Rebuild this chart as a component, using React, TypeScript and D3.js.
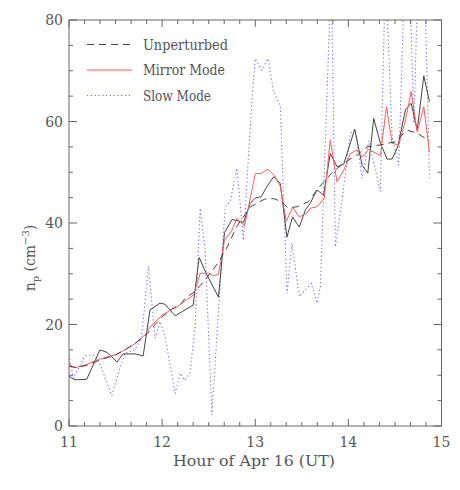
import React from "react";
import * as d3 from "d3";

// ---- data ----
const obsHours = [11.0, 11.065, 11.19, 11.333, 11.41, 11.516, 11.58, 11.71, 11.796, 11.87, 11.978, 12.03, 12.14, 12.247, 12.333, 12.398, 12.48, 12.605, 12.67, 12.75, 12.84, 12.874, 12.946, 13.0, 13.065, 13.126, 13.197, 13.269, 13.34, 13.40, 13.473, 13.538, 13.59, 13.663, 13.734, 13.806, 13.878, 13.95, 14.068, 14.147, 14.208, 14.272, 14.344, 14.416, 14.47, 14.53, 14.613, 14.674, 14.739, 14.81, 14.871];
const obsValues = [9.8, 9.1, 9.2, 15.0, 14.5, 12.6, 14.2, 14.2, 13.8, 22.9, 24.2, 24.0, 21.7, 22.9, 23.8, 33.2, 29.8, 25.4, 38.1, 40.7, 40.3, 40.1, 43.9, 44.9, 45.2, 47.2, 49.1, 47.8, 37.2, 41.2, 39.2, 42.6, 43.9, 46.5, 45.5, 53.7, 51.1, 51.6, 58.5, 51.4, 49.8, 60.6, 55.7, 52.6, 52.6, 55.0, 62.3, 63.6, 58.3, 69.0, 63.9];

const unpHours = [11.0, 11.07, 11.2, 11.33, 11.5, 11.6, 11.7, 11.82, 11.9, 12.0, 12.1, 12.2, 12.25, 12.35, 12.45, 12.6, 12.7, 12.8, 12.95, 13.1, 13.2, 13.28, 13.35, 13.45, 13.57, 13.65, 13.72, 13.82, 13.95, 14.1, 14.2, 14.35, 14.5, 14.63, 14.74, 14.8, 14.87];
const unpValues = [11.8, 11.5, 12.0, 13.0, 14.0, 15.0, 16.2, 17.8, 19.5, 21.5, 23.0, 24.0, 25.2, 26.5, 28.5, 32.1, 35.3, 39.3, 43.2, 44.7, 44.8, 44.2, 43.0, 43.2, 44.2, 46.2, 47.8, 49.8, 51.8, 53.5, 55.0, 55.4, 56.0, 58.3, 57.7, 57.0, 56.0];

const mirHours = [11.0, 11.065, 11.17, 11.315, 11.387, 11.495, 11.6, 11.71, 11.817, 11.87, 11.997, 12.104, 12.158, 12.247, 12.337, 12.409, 12.498, 12.552, 12.605, 12.67, 12.75, 12.803, 12.857, 12.885, 13.0, 13.065, 13.137, 13.208, 13.269, 13.333, 13.40, 13.473, 13.556, 13.59, 13.663, 13.742, 13.806, 13.878, 13.95, 14.022, 14.094, 14.147, 14.218, 14.344, 14.409, 14.47, 14.541, 14.613, 14.674, 14.739, 14.81, 14.871];
const mirValues = [12.2, 11.5, 12.0, 13.1, 13.5, 14.0, 15.0, 16.2, 18.0, 19.5, 21.8, 23.0, 23.4, 24.7, 25.8, 30.1, 30.1, 29.6, 29.9, 36.6, 38.6, 40.9, 39.9, 39.4, 49.7, 49.8, 50.6, 49.3, 47.2, 40.3, 43.1, 41.2, 42.0, 42.9, 43.2, 44.9, 56.4, 48.1, 50.4, 53.7, 54.4, 53.0, 54.5, 53.3, 62.9, 55.7, 55.4, 60.3, 65.9, 58.0, 62.9, 53.9];

const slowHours = [11.0, 11.046, 11.17, 11.26, 11.315, 11.46, 11.53, 11.6, 11.71, 11.78, 11.853, 11.925, 11.978, 12.032, 12.14, 12.194, 12.247, 12.30, 12.355, 12.409, 12.462, 12.534, 12.588, 12.677, 12.731, 12.803, 12.874, 12.928, 12.964, 13.0, 13.072, 13.137, 13.197, 13.269, 13.341, 13.395, 13.473, 13.538, 13.602, 13.663, 13.699, 13.817, 13.860, 13.932, 14.022, 14.075, 14.147, 14.218, 14.344, 14.398, 14.470, 14.541, 14.602, 14.656, 14.703, 14.753, 14.817, 14.871];
const slowValues = [14.0, 9.4, 13.8, 14.0, 13.0, 6.0, 10.4, 14.3, 15.0, 17.6, 31.5, 17.3, 20.6, 17.6, 6.4, 10.4, 9.0, 10.5, 20.0, 42.9, 34.7, 2.2, 17.6, 43.2, 44.2, 50.8, 36.6, 53.4, 63.9, 72.4, 70.1, 72.4, 65.9, 63.2, 26.1, 36.0, 25.5, 26.8, 28.1, 24.2, 27.4, 90.0, 35.3, 44.5, 57.7, 58.3, 48.8, 56.2, 46.2, 90.0, 57.0, 51.4, 88.0, 90.0, 59.6, 92.0, 90.0, 48.8];

const xTicks = [11, 12, 13, 14, 15];
const yTicks = [0, 20, 40, 60, 80];
const legendLabels = ["Unperturbed", "Mirror Mode", "Slow Mode"];

const W = 460, H = 490;
const left = 69, right = 441.5, top = 20, bottom = 426;
const FONT = "'DejaVu Serif', serif";
const AX = "#666";
const TXT = "#555";
const RED = "#ff5c5c";
const BLUE = "#6c6cff";
const DARK = "#444";

export default function App() {
  const x = d3.scaleLinear().domain([11, 15]).range([left, right]);
  const y = d3.scaleLinear().domain([0, 80]).range([bottom, top]);
  const mk = (hs: number[], vs: number[]) =>
    d3.line<number>().x((_, i) => x(hs[i])).y((v) => y(v)).curve(d3.curveLinear)(vs) || "";

  const xMinor = d3.range(11, 15.0001, 1 / 6);
  const yMinor = d3.range(0, 80.0001, 5);

  const legendStyles = [
    { stroke: DARK, dash: "7,5", w: 1 },
    { stroke: RED, dash: undefined, w: 1 },
    { stroke: BLUE, dash: "1.2,2.6", w: 1.1 },
  ];

  return (
    <svg width={W} height={H} style={{ position: "absolute", left: 0, top: 0, background: "#fff" }}>
      <defs>
        <clipPath id="plotClip">
          <rect x={left} y={top} width={right - left} height={bottom - top} />
        </clipPath>
      </defs>
      <g clipPath="url(#plotClip)" fill="none">
        <path d={mk(slowHours, slowValues)} stroke={BLUE} strokeWidth={1.1} strokeDasharray="1.2,2.6" />
        <path d={mk(obsHours, obsValues)} stroke={DARK} strokeWidth={1} />
        <path d={mk(mirHours, mirValues)} stroke={RED} strokeWidth={1} />
        <path d={mk(unpHours, unpValues)} stroke={DARK} strokeWidth={1} strokeDasharray="7,5" />
      </g>
      <rect x={left} y={top} width={right - left} height={bottom - top} fill="none" stroke={AX} strokeWidth={1} />
      {xMinor.map((t, i) => {
        const major = i % 6 === 0;
        const len = major ? 7 : 4;
        return (
          <g key={"xt" + i} stroke={AX} strokeWidth={1}>
            <line x1={x(t)} x2={x(t)} y1={bottom} y2={bottom - len} />
            <line x1={x(t)} x2={x(t)} y1={top} y2={top + len} />
          </g>
        );
      })}
      {yMinor.map((t, i) => {
        const major = i % 4 === 0;
        const len = major ? 8 : 4;
        return (
          <g key={"yt" + i} stroke={AX} strokeWidth={1}>
            <line x1={left} x2={left + len} y1={y(t)} y2={y(t)} />
            <line x1={right} x2={right - len} y1={y(t)} y2={y(t)} />
          </g>
        );
      })}
      {xTicks.map((t) => (
        <text key={"xl" + t} x={x(t)} y={447} textAnchor="middle" fontFamily={FONT} fontSize={14} fill={TXT}>
          {t}
        </text>
      ))}
      {yTicks.map((t) => (
        <text key={"yl" + t} x={63} y={y(t) + 5} textAnchor="end" fontFamily={FONT} fontSize={14} fill={TXT}>
          {t}
        </text>
      ))}
      <text x={254} y={466} textAnchor="middle" fontFamily={FONT} fontSize={14} fill={TXT} textLength={162} lengthAdjust="spacingAndGlyphs">
        Hour of Apr 16 (UT)
      </text>
      <text transform="translate(35,258) rotate(-90)" textAnchor="middle" fontFamily={FONT} fontSize={14} fill={TXT}>
        n<tspan fontSize={10} dy={4}>p</tspan>
        <tspan dy={-4}> (cm</tspan>
        <tspan fontSize={10} dy={-6}>−3</tspan>
        <tspan dy={6}>)</tspan>
      </text>
      {legendLabels.map((lab, i) => {
        const ly = 44.5 + i * 25.5;
        const s = legendStyles[i];
        const widths = [85, 82, 68];
        return (
          <g key={"lg" + i}>
            <line x1={87} x2={132} y1={ly} y2={ly} stroke={s.stroke} strokeWidth={s.w} strokeDasharray={s.dash} />
            <text x={143} y={ly + 5} fontFamily={FONT} fontSize={14} fill={TXT} textLength={widths[i]} lengthAdjust="spacingAndGlyphs">
              {lab}
            </text>
          </g>
        );
      })}
    </svg>
  );
}
